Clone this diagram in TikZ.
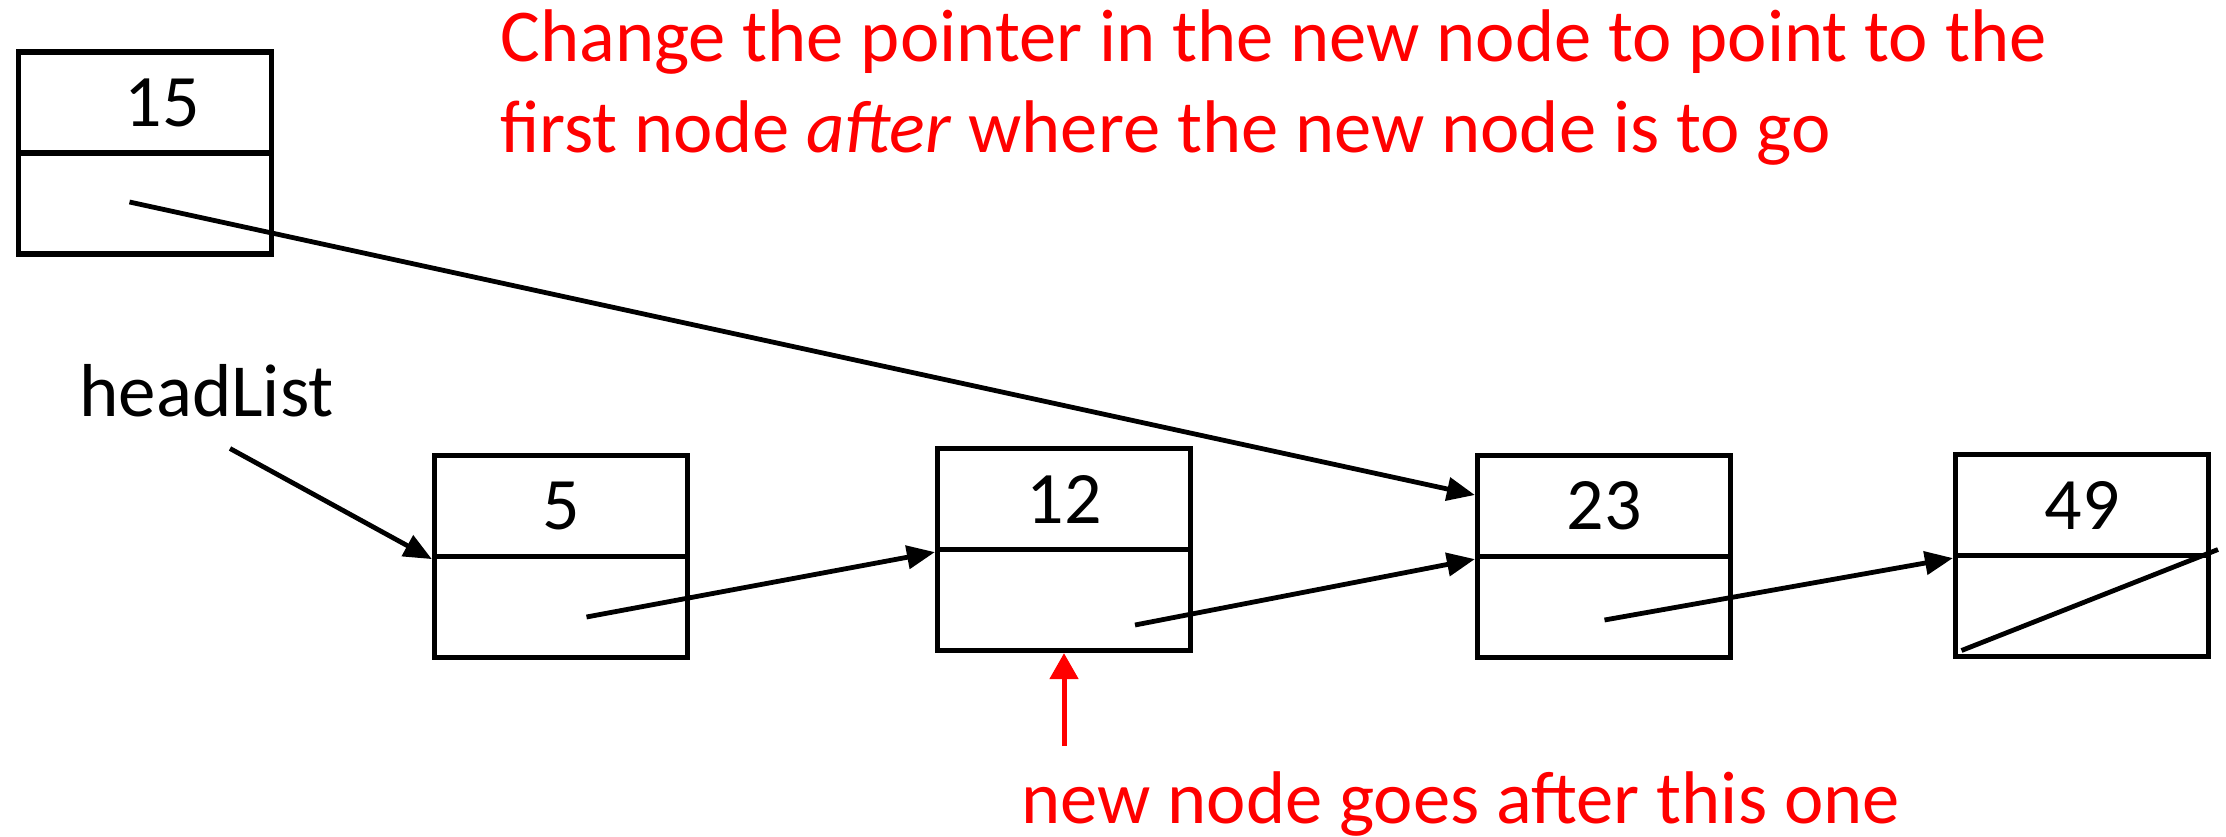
\documentclass[tikz,border=0pt]{standalone}
\usepackage{fontspec}
\setmainfont{Carlito}
\usetikzlibrary{arrows.meta,calc}
\begin{document}
\begin{tikzpicture}[x=0.5pt,y=-0.5pt,
  cell/.style={draw, line width=2.6pt, minimum width=126.5pt, minimum height=50.5pt, inner sep=0pt, font=\fontsize{37}{44}\selectfont},
  link/.style={line width=2.4pt, -{Triangle[length=14pt,width=11.5pt]}},
  redtxt/.style={text=red, font=\fontsize{37.3}{44}\selectfont, inner sep=0pt},
  lbl/.style={font=\fontsize{37.5}{44}\selectfont, inner sep=0pt}]
\useasboundingbox (0,0) rectangle (2226,836);

% list nodes
\node[cell] (n15t) at (145,102.5) {\hspace*{17pt}15};
\node[cell] (n15b) at (145,203.5) {};
\node[cell] (n5t) at (561,506) {5};
\node[cell] (n5b) at (561,607) {};
\node[cell] (n12t) at (1064,499) {12};
\node[cell] (n12b) at (1064,600) {};
\node[cell] (n23t) at (1604,506) {23};
\node[cell] (n23b) at (1604,607) {};
\node[cell] (n49t) at (2082,505) {49};
\node[cell] (n49b) at (2082,606) {};

% pointer start points
\coordinate (c15) at (129.5,202);
\coordinate (c5) at (586.5,617);
\coordinate (c12) at (1135,625);
\coordinate (c23) at (1604.5,620);
\coordinate (nullA) at (1961.5,650.5);
\coordinate (nullB) at (2218,549.5);
\coordinate (hl) at (230,448.5);
\coordinate (ra) at (1064,746);

% texts
\node[lbl, anchor=base west] (hlt) at (79,416.7) {headList};
\node[redtxt, anchor=base west] (t1) at (500,61.7) {Change the pointer in the new node to point to the};
\node[redtxt, anchor=base west] (t2) at (500,152.7) {first node \textit{after} where the new node is to go};
\node[redtxt, anchor=base west] (t3) at (1021,823.3) {new node goes after this one};

% connectors
\draw[link] (c15) -- ($(n23t.west)+(0,-11)$);
\draw[link] (hl) -- (n5t.south west);
\draw[link] (c5) -- (n12t.south west);
\draw[link] (c12) -- (n23t.south west);
\draw[link] (c23) -- (n49t.south west);
\draw[line width=2.4pt] (nullA) -- (nullB);
\draw[red, line width=2.5pt, -{Triangle[length=13pt,width=14pt]}] (ra) -- (n12b.south);
\end{tikzpicture}
\end{document}
